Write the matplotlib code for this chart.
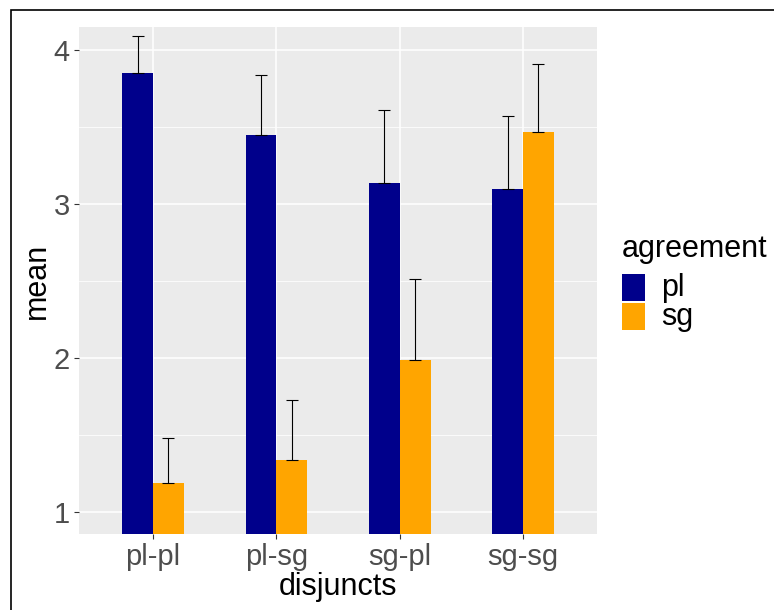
import matplotlib.pyplot as plt
import numpy as np
from matplotlib.patches import Rectangle

# data
disjuncts = ["pl-pl", "pl-sg", "sg-pl", "sg-sg"]
agreement = ["pl", "sg"]
mean_pl = [3.85, 3.45, 3.14, 3.10]
mean_sg = [1.19, 1.34, 1.99, 3.47]
upper_pl = [4.09, 3.84, 3.61, 3.57]
upper_sg = [1.48, 1.73, 2.51, 3.91]
colors = ["#00008B", "#FFA500"]

plt.rcParams["font.family"] = ["Liberation Sans", "DejaVu Sans"]

fig = plt.figure(figsize=(7.74, 6.10), dpi=100)
ax = fig.add_axes([79 / 774, 1 - 534 / 610, (597 - 79) / 774, (534 - 27) / 610])
ax.set_facecolor("#EBEBEB")

x = np.arange(1, len(disjuncts) + 1)
w = 0.25
for off, means, uppers, col in [(-w / 2, mean_pl, upper_pl, colors[0]),
                                (w / 2, mean_sg, upper_sg, colors[1])]:
    ax.bar(x + off, means, width=w, color=col, zorder=2)
    means = np.array(means)
    err = np.array(uppers) - means
    ax.errorbar(x + off, means, yerr=[np.zeros_like(err), err], fmt="none",
                ecolor="black", elinewidth=0.8, capsize=4, capthick=0.8, zorder=3)

ax.set_xlim(0.4, 4.6)
ax.set_ylim(0.857, 4.15)
ax.set_xticks(x)
ax.set_xticklabels(disjuncts)
ax.set_yticks([1, 2, 3, 4])
ax.set_yticks([1.5, 2.5, 3.5], minor=True)
ax.grid(which="major", color="white", linewidth=1.1, zorder=0)
ax.grid(which="minor", axis="y", color="white", linewidth=0.55, zorder=0)
ax.set_axisbelow(True)
for s in ax.spines.values():
    s.set_visible(False)
ax.tick_params(which="major", length=3.5, width=0.8, color="#333333",
               labelsize=21, labelcolor="#4D4D4D", pad=3)
ax.tick_params(which="minor", length=0)
ax.set_xlabel("disjuncts", fontsize=22, labelpad=1)
ax.set_ylabel("mean", fontsize=22, labelpad=1)

# legend drawn by hand
W, H = 774, 610
fig.text(622 / W, 1 - 257 / H, "agreement", fontsize=22, va="baseline", ha="left")
for i, (lab, col) in enumerate(zip(agreement, colors)):
    top = 274 + i * 29
    fig.patches.append(Rectangle((622 / W, 1 - (top + 27) / H), 23 / W, 27 / H,
                                 transform=fig.transFigure, facecolor=col,
                                 edgecolor="none"))
    fig.text(661 / W, 1 - (top + 14) / H, lab, fontsize=22, va="center", ha="left")

# outer frame (top and left edges only are visible)
fig.patches.append(Rectangle((11 / W, -0.01), 1, 1 - 10 / H + 0.01,
                             transform=fig.transFigure, fill=False,
                             edgecolor="black", linewidth=1.2))

fig.savefig("out.png", dpi=100)
